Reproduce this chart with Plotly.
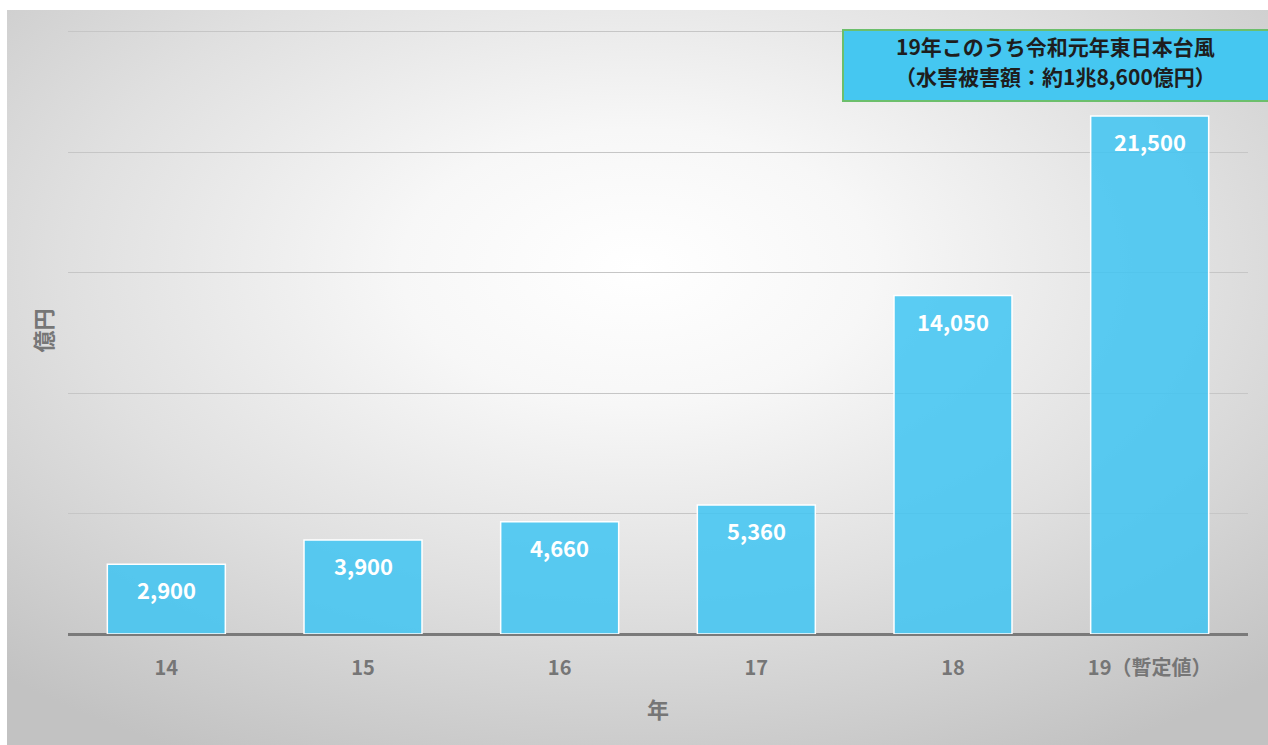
import base64
import plotly.graph_objects as go

categories = ["14", "15", "16", "17", "18", "19（暫定値）"]
values = [2900, 3900, 4660, 5360, 14050, 21500]
value_labels = ["2,900", "3,900", "4,660", "5,360", "14,050", "21,500"]
note_lines = ["19年このうち令和元年東日本台風", "（水害被害額：約1兆8,600億円）"]

FONT = "Noto Sans CJK JP"

# background radial gradient as an SVG image
svg = """<svg xmlns='http://www.w3.org/2000/svg' width='1261' height='735' viewBox='0 0 1261 735' preserveAspectRatio='none'>
<defs><radialGradient id='g' cx='0.5' cy='0.35' r='0.75' fx='0.5' fy='0.35'>
<stop offset='0' stop-color='#ffffff'/>
<stop offset='0.25' stop-color='#f7f7f7'/>
<stop offset='0.6' stop-color='#e0e0e0'/>
<stop offset='1' stop-color='#c2c2c2'/>
</radialGradient></defs>
<rect x='0' y='0' width='1261' height='735' fill='url(#g)'/>
</svg>"""
svg_uri = "data:image/svg+xml;base64," + base64.b64encode(svg.encode()).decode()

W, H = 1268, 745
YMAX = 25200
L, R, B = 68, 20, 111
T = round(634 - YMAX * 602 / 25000)
pw, ph = W - L - R, H - T - B

def px_x(p):
    return (p - L) / pw

def px_y(p):
    return (H - B - p) / ph

fig = go.Figure()
fig.add_trace(go.Bar(
    x=categories, y=values,
    marker=dict(color="rgba(62,196,242,0.85)", line=dict(color="white", width=1.5)),
    hoverinfo="skip",
))

for i, (v, t) in enumerate(zip(values, value_labels)):
    fig.add_annotation(x=i, y=v, text=t, showarrow=False, yshift=-25,
                       font=dict(family=FONT, size=22, color="white", weight="bold"))

# note box
fig.add_shape(type="rect", xref="paper", yref="paper",
              x0=px_x(843), x1=px_x(1272), y0=px_y(101), y1=px_y(30),
              fillcolor="#45c7f1", line=dict(color="#6cbf6c", width=2), layer="above")
for k, line in enumerate(note_lines):
    fig.add_annotation(xref="paper", yref="paper", x=px_x(1055), y=px_y(46 + 30 * k),
                       xanchor="center", yanchor="middle", text=line, showarrow=False,
                       font=dict(family=FONT, size=21, color="#1e1e1e", weight="bold"))

fig.add_layout_image(dict(
    source=svg_uri, xref="paper", yref="paper",
    x=px_x(7), y=px_y(10), sizex=px_x(1268) - px_x(7), sizey=px_y(10) - px_y(745),
    xanchor="left", yanchor="top", sizing="stretch", layer="below",
))

fig.update_layout(
    width=W, height=H,
    margin=dict(l=L, r=R, t=T, b=B),
    paper_bgcolor="white", plot_bgcolor="rgba(0,0,0,0)",
    bargap=0.4, showlegend=False,
    font=dict(family=FONT),
    xaxis=dict(
        type="category", automargin=False, tickangle=0, range=[-0.5, 5.5],
        tickfont=dict(family=FONT, size=20, color="#767676", weight="bold"),
        ticks="", showline=False, showgrid=False, ticklabelstandoff=20,
        title=dict(text="年", font=dict(family=FONT, size=22, color="#767676", weight="bold"), standoff=22),
    ),
    yaxis=dict(
        range=[0, YMAX], tick0=0, dtick=5000, showticklabels=False, ticks="", automargin=False,
        showgrid=True, gridcolor="#c6c6c6", gridwidth=1,
        zeroline=True, zerolinecolor="#7a7a7a", zerolinewidth=3,
        title=dict(text="億円", font=dict(family=FONT, size=22, color="#767676", weight="bold"), standoff=8),
    ),
)

fig.write_html("out.html")
